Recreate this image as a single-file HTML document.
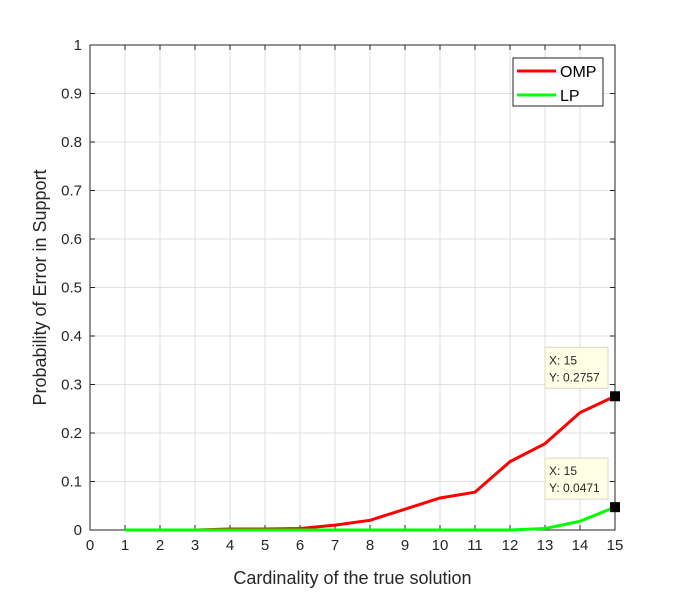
<!DOCTYPE html>
<html><head><meta charset="utf-8"><style>
body{margin:0;background:#fff;}
svg{font-family:"Liberation Sans",sans-serif;}
</style></head><body>
<svg id="chart" width="681" height="595">
<rect x="0" y="0" width="681" height="595" fill="#fff"/>
</svg>
<script>
const xCats=[1,2,3,4,5,6,7,8,9,10,11,12,13,14,15];
const ompValues=[0,0,0,0.002,0.002,0.003,0.01,0.02,0.043,0.066,0.078,0.141,0.178,0.242,0.2757];
const lpValues=[0,0,0,0,0,0,0,0,0,0,0,0,0.003,0.018,0.0471];
const xTicks=[0,1,2,3,4,5,6,7,8,9,10,11,12,13,14,15];
const yTicks=[0,0.1,0.2,0.3,0.4,0.5,0.6,0.7,0.8,0.9,1];
const yTickLabels=["0","0.1","0.2","0.3","0.4","0.5","0.6","0.7","0.8","0.9","1"];
const L=90,R=615,T=45,B=530;
const sx=v=>L+(v-0)/15*(R-L);
const sy=v=>B-v*(B-T);
const svg=document.getElementById('chart');
const NS='http://www.w3.org/2000/svg';
function mk(tag,attrs,parent){const e=document.createElementNS(NS,tag);for(const k in attrs)e.setAttribute(k,attrs[k]);(parent||svg).appendChild(e);return e;}
const grid=mk('g',{});


xTicks.forEach(t=>{mk('line',{x1:sx(t),x2:sx(t),y1:T,y2:B,stroke:'#dfdfdf','stroke-width':1},grid);});
yTicks.forEach(t=>{mk('line',{x1:L,x2:R,y1:sy(t),y2:sy(t),stroke:'#dfdfdf','stroke-width':1},grid);});
const axes=mk('g',{});


mk('rect',{x:L,y:T,width:R-L,height:B-T,fill:'none',stroke:'#262626','stroke-width':1},axes);
xTicks.forEach(t=>{
  mk('line',{x1:sx(t),x2:sx(t),y1:B,y2:B-5,stroke:'#262626'},axes);
  mk('line',{x1:sx(t),x2:sx(t),y1:T,y2:T+5,stroke:'#262626'},axes);
  const tx=mk('text',{x:sx(t),y:B+20,'text-anchor':'middle','font-size':15,fill:'#262626'},axes);
  tx.textContent=t;
  
  
});
yTicks.forEach((t,i)=>{
  mk('line',{x1:L,x2:L+5,y1:sy(t),y2:sy(t),stroke:'#262626'},axes);
  mk('line',{x1:R,x2:R-5,y1:sy(t),y2:sy(t),stroke:'#262626'},axes);
  const tx=mk('text',{x:L-8,y:sy(t)+5,'text-anchor':'end','font-size':15,fill:'#262626'},axes);
  tx.textContent=yTickLabels[i];
  
  
});
const xt=mk('text',{x:(L+R)/2,y:584,'text-anchor':'middle','font-size':18,fill:'#262626'});
xt.textContent='Cardinality of the true solution';


const yt=mk('text',{x:0,y:0,transform:`translate(46,${(T+B)/2}) rotate(-90)`,'text-anchor':'middle','font-size':18,fill:'#262626'});
yt.textContent='Probability of Error in Support';


function line(vals,color,name){
  const p=mk('polyline',{points:xCats.map((x,i)=>sx(x)+','+sy(vals[i])).join(' '),fill:'none',stroke:color,'stroke-width':3,'stroke-linejoin':'round'});
  
  
}
line(ompValues,'#ff0000','omp-line');
line(lpValues,'#00ff00','lp-line');
function tip(x,y,name){
  const g=mk('g',{});
  
  
  const px=sx(x),py=sy(y);
  mk('rect',{x:px-70,y:py-49,width:63,height:41,fill:'#ffffe6',stroke:'#d8d8c8'},g);
  const t1=mk('text',{x:px-66,y:py-32,'font-size':12,fill:'#262626'},g);t1.textContent='X: '+x;
  const t2=mk('text',{x:px-66,y:py-15,'font-size':12,fill:'#262626'},g);t2.textContent='Y: '+y;
  mk('rect',{x:px-5,y:py-5,width:10,height:10,fill:'#000'},g);
}
tip(xCats[14],ompValues[14],'omp-datatip');
tip(xCats[14],lpValues[14],'lp-datatip');
const lg=mk('g',{});


mk('rect',{x:513,y:58,width:90,height:48,fill:'#fff',stroke:'#262626'},lg);
mk('line',{x1:517,x2:556,y1:71,y2:71,stroke:'#ff0000','stroke-width':3},lg);
mk('line',{x1:517,x2:556,y1:95,y2:95,stroke:'#00ff00','stroke-width':3},lg);
const l1=mk('text',{x:560,y:77,'font-size':16,fill:'#000'},lg);l1.textContent='OMP';
const l2=mk('text',{x:560,y:101,'font-size':16,fill:'#000'},lg);l2.textContent='LP';
</script>
</body></html>
